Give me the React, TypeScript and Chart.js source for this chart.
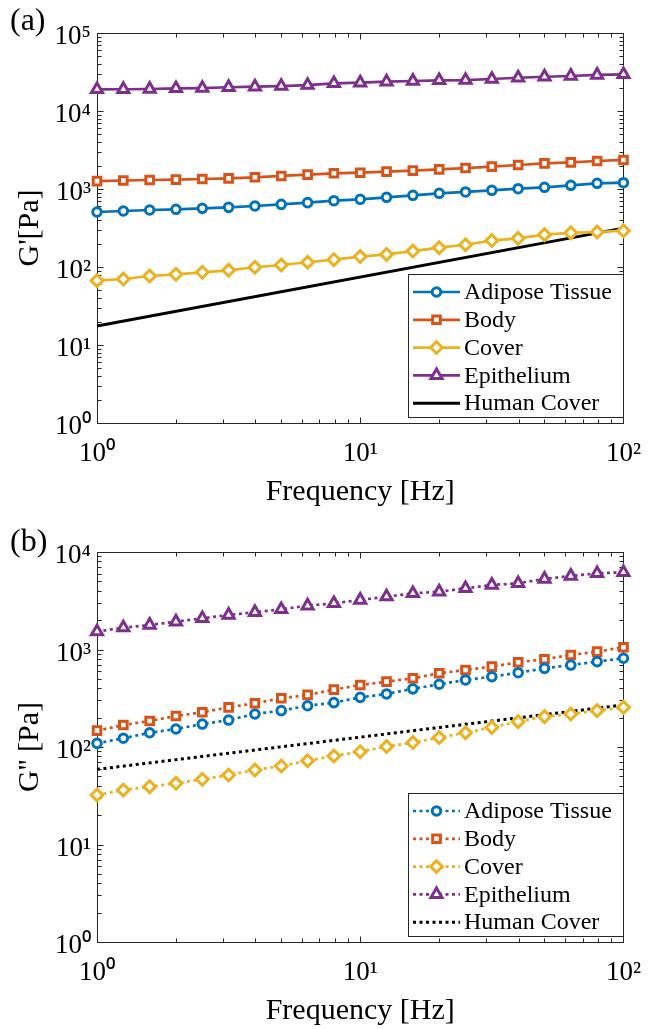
import React, { useEffect, useRef } from 'react';
import { Chart, registerables } from 'chart.js';

Chart.register(...registerables);

// ---------- data ----------
const FREQ = [1, 1.259, 1.585, 1.995, 2.512, 3.162, 3.981, 5.012, 6.31, 7.943, 10, 12.59, 15.85, 19.95, 25.12, 31.62, 39.81, 50.12, 63.1, 79.43, 100];

const SERIES_LABELS = ['Adipose Tissue', 'Body', 'Cover', 'Epithelium', 'Human Cover'];

// (a) storage modulus G'
const ADIPOSE_G1 = [507, 522, 538, 549, 565, 582, 605, 636, 668, 708, 738, 783, 830, 881, 916, 962, 1009, 1052, 1115, 1183, 1205];
const BODY_G1 = [1260, 1285, 1304, 1318, 1343, 1371, 1413, 1469, 1528, 1590, 1618, 1667, 1717, 1786, 1857, 1932, 2032, 2134, 2198, 2286, 2357];
const COVER_G1 = [66.8, 70.2, 76.7, 80.6, 85.5, 90.7, 99.2, 106, 115, 124, 136, 145, 160, 177, 193, 218, 233, 260, 274, 281, 292];
const EPI_G1 = [18970, 19000, 19150, 19500, 19700, 20150, 20500, 20900, 21500, 22650, 23050, 23750, 24250, 24750, 24950, 25700, 26700, 27500, 28100, 29000, 29500];
const HUMAN_FREQ = [1, 100];
const HUMAN_G1 = [17.5, 315];

// (b) loss modulus G''
const ADIPOSE_G2 = [109, 123, 140, 153, 172, 189, 218, 236, 265, 285, 323, 350, 395, 440, 487, 526, 578, 641, 693, 751, 813];
const BODY_G2 = [147, 168, 185, 208, 227, 255, 281, 316, 342, 388, 432, 468, 507, 570, 617, 667, 740, 794, 879, 951, 1054];
const COVER_G2 = [32.2, 36.2, 39.2, 42.4, 46.6, 51.6, 58.1, 63.8, 72.3, 80.9, 89.5, 101, 111, 125, 140, 159, 182, 205, 218, 236, 255];
const EPI_G2 = [1524, 1675, 1783, 1928, 2089, 2260, 2410, 2585, 2815, 2977, 3220, 3482, 3766, 3917, 4243, 4590, 4775, 5285, 5675, 6045, 6190];
const HUMAN_G2 = [59, 270];

const X_MIN = 1;
const X_MAX = 100;
const Y_MAX_A = 100000;
const Y_MAX_B = 10000;

// ---------- styles ----------
const FONT = '"Liberation Serif", "Times New Roman", serif';
const COLORS = ['#0072BD', '#D95319', '#EDB120', '#7E2F8E', '#000000'];
const STYLES = ['circle', 'rect', 'rectRot', 'triangle', false];
const RADII = [4.3, 5.4, 5.9, 6.4, 0];
const MARKER_BW = 3;
const AXIS_COLOR = '#262626';
const DOT_DASH = [3, 3.5];

const SUP: Record<string, string> = { '0': '⁰', '1': '¹', '2': '²', '3': '³', '4': '⁴', '5': '⁵', '6': '⁶', '-': '⁻' };

function powLabel(v: number): string {
  const e = Math.log10(v);
  if (Math.abs(e - Math.round(e)) > 1e-6) return '';
  return '10' + String(Math.round(e)).split('').map((c) => SUP[c] || c).join('');
}

function drawMarker(ctx: CanvasRenderingContext2D, style: any, x: number, y: number, r: number, color: string, bw: number) {
  if (!style || r <= 0) return;
  ctx.save();
  ctx.setLineDash([]);
  ctx.lineWidth = bw;
  ctx.strokeStyle = color;
  ctx.fillStyle = '#ffffff';
  ctx.beginPath();
  if (style === 'circle') {
    ctx.arc(x, y, r, 0, Math.PI * 2);
  } else if (style === 'rect') {
    const s = r * Math.SQRT1_2;
    ctx.rect(x - s, y - s, 2 * s, 2 * s);
  } else if (style === 'rectRot') {
    ctx.moveTo(x, y - r);
    ctx.lineTo(x + r, y);
    ctx.lineTo(x, y + r);
    ctx.lineTo(x - r, y);
    ctx.closePath();
  } else if (style === 'triangle') {
    let a = 0;
    ctx.moveTo(x + Math.sin(a) * r, y - Math.cos(a) * r);
    a += (2 * Math.PI) / 3;
    ctx.lineTo(x + Math.sin(a) * r, y - Math.cos(a) * r);
    a += (2 * Math.PI) / 3;
    ctx.lineTo(x + Math.sin(a) * r, y - Math.cos(a) * r);
    ctx.closePath();
  }
  ctx.fill();
  ctx.stroke();
  ctx.restore();
}

// MATLAB-like box with inward major/minor ticks on all four sides
const framePlugin = {
  id: 'matFrame',
  beforeDatasetsDraw(chart: any) {
    const { ctx, chartArea: ca, scales } = chart;
    ctx.save();
    ctx.strokeStyle = AXIS_COLOR;
    ctx.lineWidth = 1;
    ctx.setLineDash([]);
    const L = Math.round(ca.left) + 0.5;
    const R = Math.round(ca.right) + 0.5;
    const T = Math.round(ca.top) + 0.5;
    const B = Math.round(ca.bottom) + 0.5;
    ctx.strokeRect(L, T, R - L, B - T);
    const tickVals = (min: number, max: number) => {
      const out: { v: number; major: boolean }[] = [];
      for (let p = Math.floor(Math.log10(min)); p <= Math.ceil(Math.log10(max)); p++) {
        for (let m = 1; m <= 9; m++) {
          const v = m * Math.pow(10, p);
          if (v >= min * 0.9999 && v <= max * 1.0001) out.push({ v, major: m === 1 });
        }
      }
      return out;
    };
    ctx.beginPath();
    for (const t of tickVals(X_MIN, X_MAX)) {
      const px = Math.round(scales.x.getPixelForValue(t.v)) + 0.5;
      const len = t.major ? 6 : 4;
      ctx.moveTo(px, B);
      ctx.lineTo(px, B - len);
      ctx.moveTo(px, T);
      ctx.lineTo(px, T + len);
    }
    for (const t of tickVals(scales.y.min, scales.y.max)) {
      const py = Math.round(scales.y.getPixelForValue(t.v)) + 0.5;
      const len = t.major ? 6 : 4;
      ctx.moveTo(L, py);
      ctx.lineTo(L + len, py);
      ctx.moveTo(R, py);
      ctx.lineTo(R - len, py);
    }
    ctx.stroke();
    ctx.restore();
  },
};

// legend box in the lower-right corner of the plot area
const legendPlugin = {
  id: 'matLegend',
  afterDatasetsDraw(chart: any) {
    const { ctx, chartArea: ca } = chart;
    const dotted = !!chart.options.plugins.matLegend?.dotted;
    const boxW = 215;
    const boxH = 143;
    const left = Math.round(ca.right - boxW) + 0.5;
    const top = Math.round(ca.bottom - 149) + 0.5;
    ctx.save();
    ctx.fillStyle = '#ffffff';
    ctx.fillRect(left, top, boxW, boxH);
    ctx.strokeStyle = AXIS_COLOR;
    ctx.lineWidth = 1;
    ctx.setLineDash([]);
    ctx.strokeRect(left, top, boxW, boxH);
    chart.data.datasets.forEach((ds: any, i: number) => {
      const y = top + 17.5 + i * 27.8;
      const x0 = left + 4.5;
      const x1 = left + 51.5;
      ctx.save();
      ctx.strokeStyle = ds.borderColor;
      ctx.lineWidth = ds.borderWidth;
      ctx.lineCap = 'butt';
      ctx.setLineDash(dotted ? DOT_DASH : []);
      ctx.beginPath();
      ctx.moveTo(x0, y);
      ctx.lineTo(x1, y);
      ctx.stroke();
      ctx.restore();
      drawMarker(ctx, ds.pointStyle, (x0 + x1) / 2, y, ds.pointRadius, ds.borderColor, ds.pointBorderWidth);
      ctx.fillStyle = '#000000';
      ctx.font = `24px ${FONT}`;
      ctx.textAlign = 'left';
      ctx.textBaseline = 'middle';
      ctx.fillText(ds.label, left + 55.5, y + 1);
    });
    ctx.restore();
  },
};

function makeDatasets(seriesY: number[][], humanY: number[], dotted: boolean) {
  const all = [...seriesY, humanY];
  return all.map((vals, i) => {
    const isHuman = i === 4;
    const xs = isHuman ? HUMAN_FREQ : FREQ;
    return {
      label: SERIES_LABELS[i],
      data: xs.map((f, j) => ({ x: f, y: vals[j] })),
      borderColor: COLORS[i],
      backgroundColor: COLORS[i],
      borderWidth: isHuman ? 3 : 2.7,
      borderDash: dotted ? DOT_DASH : [],
      borderCapStyle: 'butt',
      pointStyle: STYLES[i],
      pointRadius: RADII[i],
      pointHoverRadius: RADII[i],
      pointBorderWidth: MARKER_BW,
      pointBackgroundColor: '#ffffff',
      pointBorderColor: COLORS[i],
      tension: 0,
      fill: false,
      clip: false,
    };
  });
}

function makeConfig(opts: {
  seriesY: number[][];
  humanY: number[];
  dotted: boolean;
  yMax: number;
  yTitle: string;
  padTop: number;
  xAxisH: number;
  titlePadB: number;
}): any {
  return {
    type: 'line',
    data: { datasets: makeDatasets(opts.seriesY, opts.humanY, opts.dotted) },
    options: {
      responsive: false,
      animation: false,
      events: [],
      layout: { padding: { left: 0, top: opts.padTop, right: 29, bottom: 0 } },
      plugins: {
        legend: { display: false },
        tooltip: { enabled: false },
        matLegend: { dotted: opts.dotted },
      },
      scales: {
        x: {
          type: 'logarithmic',
          min: X_MIN,
          max: X_MAX,
          grid: { display: false, drawTicks: false },
          border: { display: false },
          ticks: {
            autoSkip: false,
            maxRotation: 0,
            minRotation: 0,
            padding: 15,
            color: '#000000',
            font: { family: FONT, size: 27 },
            callback: (v: any) => powLabel(Number(v)),
          },
          title: {
            display: true,
            text: 'Frequency [Hz]',
            color: '#000000',
            font: { family: FONT, size: 30 },
            padding: { top: 0, bottom: opts.titlePadB },
          },
          afterFit: (s: any) => {
            s.height = opts.xAxisH;
          },
        },
        y: {
          type: 'logarithmic',
          min: 1,
          max: opts.yMax,
          grid: { display: false, drawTicks: false },
          border: { display: false },
          ticks: {
            autoSkip: false,
            padding: 6,
            labelOffset: 4,
            color: '#000000',
            font: { family: FONT, size: 27 },
            callback: (v: any) => powLabel(Number(v)),
          },
          title: {
            display: true,
            text: opts.yTitle,
            color: '#000000',
            font: { family: FONT, size: 30 },
            padding: { top: 12, bottom: 0 },
          },
          afterFit: (s: any) => {
            s.width = 97;
          },
        },
      },
    },
    plugins: [framePlugin, legendPlugin],
  };
}

export default function App() {
  const refA = useRef<HTMLCanvasElement>(null);
  const refB = useRef<HTMLCanvasElement>(null);

  useEffect(() => {
    if (!refA.current || !refB.current) return;
    const a = new Chart(
      refA.current,
      makeConfig({
        seriesY: [ADIPOSE_G1, BODY_G1, COVER_G1, EPI_G1],
        humanY: HUMAN_G1,
        dotted: false,
        yMax: Y_MAX_A,
        yTitle: "G'[Pa]",
        padTop: 33,
        xAxisH: 92,
        titlePadB: 5,
      })
    );
    const b = new Chart(
      refB.current,
      makeConfig({
        seriesY: [ADIPOSE_G2, BODY_G2, COVER_G2, EPI_G2],
        humanY: HUMAN_G2,
        dotted: true,
        yMax: Y_MAX_B,
        yTitle: "G'' [Pa]",
        padTop: 37,
        xAxisH: 87,
        titlePadB: 0,
      })
    );
    return () => {
      a.destroy();
      b.destroy();
    };
  }, []);

  const labelStyle: React.CSSProperties = {
    position: 'absolute',
    left: 10,
    fontFamily: FONT,
    fontSize: 32,
    lineHeight: 1,
    color: '#000',
    whiteSpace: 'nowrap',
  };

  return (
    <div style={{ position: 'absolute', left: 0, top: 0, width: 656, height: 1029, background: '#ffffff', overflow: 'hidden' }}>
      <canvas ref={refA} width={656} height={515} style={{ position: 'absolute', left: 0, top: 0 }} />
      <canvas ref={refB} width={656} height={514} style={{ position: 'absolute', left: 0, top: 515 }} />
      <div style={{ ...labelStyle, top: 3 }}>(a)</div>
      <div style={{ ...labelStyle, top: 524 }}>(b)</div>
    </div>
  );
}
